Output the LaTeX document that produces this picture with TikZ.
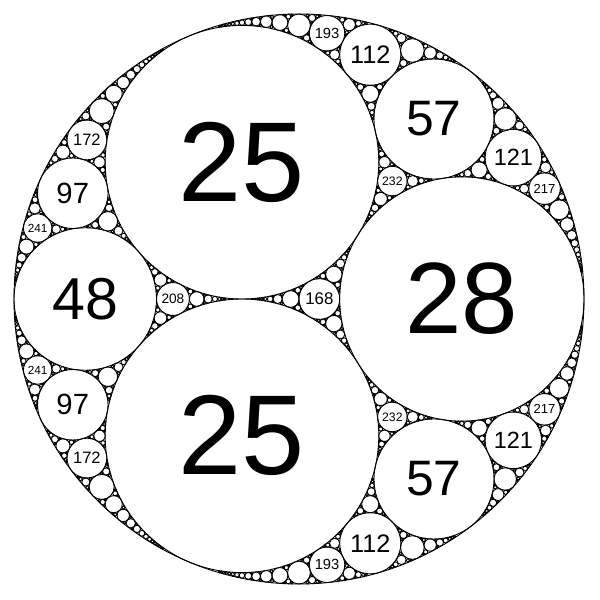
\documentclass[tikz,border=0pt]{standalone}
\usepackage{fontspec}
\setmainfont{Liberation Sans}
\newcommand\radpx{285}
\newcommand\maxbend{4000}
\newcount\labno
\def\getk#1,#2,#3!{#1}
\def\getx#1,#2,#3!{#2}
\def\gety#1,#2,#3!{#3}
\def\refl#1#2#3#4{\the\numexpr2*(\getk#1!+\getk#2!+\getk#3!)-\getk#4!\relax,%
  \the\numexpr2*(\getx#1!+\getx#2!+\getx#3!)-\getx#4!\relax,%
  \the\numexpr2*(\gety#1!+\gety#2!+\gety#3!)-\gety#4!\relax}
\def\skipit#1{}
\def\keepit#1{#1}
\def\bubble#1{\edef\tk{\getk#1!}\edef\tx{\getx#1!}\edef\ty{\gety#1!}%
  \draw[ring] ({\tx/\tk*\radpx},{\ty/\tk*\radpx}) circle[radius={12*\radpx/\tk}];
  \ifnum\tk<242
    \pgfmathsetmacro\fs{0.83*12*\radpx/\tk}\global\advance\labno by 1
    \node[bend label,font=\fontsize{\fs}{\fs}\selectfont] (c\the\labno)
      at ({\tx/\tk*\radpx},{\ty/\tk*\radpx}) {\tk};
  \fi}
\def\pack#1#2#3#4{\ifnum\getk#4!>\maxbend\relax\expandafter\skipit\else
  \expandafter\keepit\fi{\grow{#1}{#2}{#3}{#4}}}
\def\grow#1#2#3#4{\bubble{#4}%
  \edef\nxt{\noexpand\pack{#1}{#2}{#4}{\refl{#1}{#2}{#4}{#3}}%
    \noexpand\pack{#1}{#3}{#4}{\refl{#1}{#3}{#4}{#2}}%
    \noexpand\pack{#2}{#3}{#4}{\refl{#2}{#3}{#4}{#1}}}\nxt}
\def\gap#1#2#3#4{\edef\nxt{\noexpand\pack{#1}{#2}{#3}{\refl{#1}{#2}{#3}{#4}}}\nxt}
\tikzset{
  ring/.style={draw=black,line width=0.9pt},
  bend label/.style={inner sep=0pt,text=black}
}
\begin{document}
\begin{tikzpicture}[x=1pt,y=1pt]
  \useasboundingbox (-299,-301) rectangle (301,299);
  \draw[ring] (0,0) circle[radius=\radpx];
  \bubble{25,-5,12}
  \bubble{25,-5,-12}
  \bubble{28,16,0}
  \gap{25,-5,12}{25,-5,-12}{28,16,0}{-12,0,0}
  \gap{-12,0,0}{25,-5,12}{25,-5,-12}{28,16,0}
  \gap{-12,0,0}{25,-5,12}{28,16,0}{25,-5,-12}
  \gap{-12,0,0}{25,-5,-12}{28,16,0}{25,-5,12}
\end{tikzpicture}
\end{document}
